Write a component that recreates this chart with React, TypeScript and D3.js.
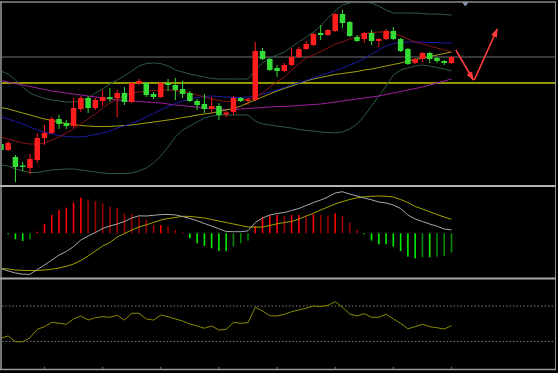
import React from 'react';
import * as d3 from 'd3';

const W = 558;
const H = 373;

// candles (oldest -> newest)
const opens = [56, 50, 43, 34.5, 32, 40, 62, 67, 81, 77, 74, 91, 102, 92, 99, 103, 102, 107, 98, 116.5, 117, 106, 103, 117, 115, 111, 107, 99, 96, 91, 94, 85.5, 88, 102, 99, 100, 149, 141, 132, 129, 135, 143, 151, 155, 167, 165, 169, 186, 178, 163, 161, 167, 159, 161, 169, 161, 151, 137, 141, 147, 142, 139, 137];
const highs = [58, 59, 45, 38, 46, 67, 75, 83, 85, 80, 102, 104, 104, 102, 110, 112, 110, 113, 118, 121, 118, 108, 118, 121, 122, 119, 109, 101, 106, 103, 97, 89, 104, 103, 102, 158, 152, 142, 135, 137, 152, 153, 159, 167, 175, 171, 187, 190, 179, 165, 168, 170, 162, 171, 173, 162, 152, 142, 148, 148, 143, 140, 144];
const lows = [48, 49, 18, 29, 26, 37, 55, 66, 71, 71, 72, 88, 87, 90, 94, 98, 83, 95, 97, 115, 103, 101, 102, 109, 100, 102, 98, 90, 87, 87, 80, 83, 85, 98, 95, 99, 140, 129, 123, 128, 134, 142, 150, 154, 160, 164, 168, 172, 163, 158, 157, 155, 153, 160, 160, 148, 135, 136, 138, 137, 137, 135, 136];
const closes = [50, 57, 33, 33, 41, 62, 67, 81, 76, 74, 92, 102, 92, 100, 103, 101, 107, 98, 117, 119, 105, 103, 117, 115, 110, 106, 99, 95, 91, 94, 85, 87.5, 102, 99, 100.5, 149, 141, 130, 129, 135, 143, 151, 156, 166, 165, 170, 186, 177, 164, 159, 167, 159, 161, 169, 161, 149, 136, 141, 147, 141, 139, 137, 143];

// overlays on the price panel
const bollUpper = [129, 126, 120, 113, 107, 104, 101.5, 100, 99, 98, 98, 99, 102, 107, 111, 116, 120, 124, 129, 134, 136.5, 137, 136.5, 134, 130, 128, 126, 124.5, 123, 121.5, 121, 121, 121, 121, 121, 130, 137, 142, 145, 148, 153, 158, 163, 168, 174, 182, 189, 195, 197, 198, 198, 197, 194, 190, 187, 187, 187, 187, 186.5, 186, 186, 185.5, 185];
const bollMid = [83, 81, 78.5, 76, 73, 70, 68, 66, 64.5, 63.5, 63, 63, 64, 65.5, 67, 69, 72, 74, 76.5, 79.5, 83, 86.5, 90, 93.5, 96.5, 99, 101, 102.5, 103.5, 104, 103.5, 103, 102.5, 102.5, 103, 104.5, 106, 108, 110, 112.5, 115, 117, 119.5, 122, 124.5, 127, 129.5, 132, 135, 138, 141.5, 146, 150, 154, 156.5, 157.5, 158, 158, 158, 157.5, 157.5, 157, 157];
const bollLower = [35, 34, 31, 29, 27.5, 27.5, 29, 30, 30.5, 31, 31, 30, 29, 28, 27, 26.5, 26.5, 26.5, 27, 29, 32, 37, 44, 53, 63, 70, 74, 78, 82, 84, 85, 85, 85, 85, 85, 79, 76, 75, 74, 73, 72, 70.5, 69.5, 69, 68, 67.5, 67, 68, 71, 76, 84, 94, 104, 114, 125, 130, 132, 134, 135, 134, 132.5, 131, 129];
const maShort = [63, 61, 59, 57, 56, 56, 57, 60, 63, 67, 71, 76, 81, 86, 92, 97, 101, 104, 107, 108, 109, 109.5, 110, 110, 109.5, 108.5, 107, 105, 103, 101, 99.5, 98.5, 99, 100, 101, 103, 107, 113, 118, 123, 130, 136, 142, 145, 148.5, 152, 156, 158, 161, 163, 166, 167.5, 168, 168, 167, 164, 161, 158, 156, 154, 152, 150, 148];
const maMid = [92.5, 91, 89, 87, 85, 83, 81, 79.5, 78, 76.5, 75.5, 74.5, 74, 73.5, 73.5, 73.5, 74, 74.5, 75, 76, 77, 78, 79, 80, 81, 82.5, 83.5, 85, 86, 87, 88.5, 90, 91.5, 94, 97, 100, 103, 106, 109, 111.5, 114, 116.5, 119, 121, 122.5, 124, 125.5, 126.5, 127.5, 128.5, 130, 131, 132.5, 134, 135.5, 137, 139, 140.5, 142, 143.5, 145, 146.5, 148];
const maLong = [119.5, 118, 116.5, 115, 113.5, 112, 110.5, 109, 108, 107, 106, 105, 104, 103, 102, 101, 100, 99.5, 99, 98.5, 98, 97.5, 97, 96, 95, 94.5, 93.5, 93, 92, 91.5, 91, 90.5, 90.5, 91, 91.5, 92, 92.5, 93, 93.5, 93.5, 94, 94.5, 95, 95.5, 96, 97, 98, 99, 100, 101, 102, 103, 104, 105.5, 107, 108.5, 110, 111.5, 113, 115, 117, 119, 121];
const priceLevels = [
  { value: 143, color: '#4d4d4d', width: 1.6 },
  { value: 117, color: '#c8c800', width: 1.3 },
];

// MACD
const macdDif = [-35.2, -37.7, -39.7, -40.9, -41, -36.2, -31.7, -26.7, -21.7, -18.2, -13.2, -6.7, -2.7, 0.8, 4.8, 7.3, 9.3, 11.8, 15.3, 17.5, 17.3, 18, 18.7, 18.9, 18.4, 16.8, 14.8, 12.5, 9.8, 7.3, 4.5, 1.8, 1.6, 1.6, 2.5, 10.8, 15.3, 18.3, 19.8, 20.8, 22.8, 24.8, 27.8, 30.8, 33.3, 36.3, 40.3, 41.6, 39.3, 37.3, 35.3, 33.5, 31.3, 30.3, 28.3, 24.8, 18.3, 14.3, 11.8, 9.3, 7.1, 4.3, 3.3];
const macdDea = [-35, -35.7, -36.7, -37.1, -37.3, -37.2, -36.7, -35.9, -34.7, -33, -30.7, -27.2, -22.7, -17.7, -12.7, -9.2, -3.7, -0.2, 3.3, 6.3, 8.5, 10.8, 13.3, 14.8, 15.8, 17, 16.9, 16.1, 15.3, 13.8, 12.3, 10.8, 9.3, 7.8, 6.3, 6.1, 6.3, 7.8, 9.5, 10.8, 11.8, 14.3, 17.3, 20, 23.3, 26.3, 29.3, 31.8, 33.8, 35.5, 36.5, 37, 37.3, 37, 36.3, 33.8, 30.8, 26.8, 24.3, 21.5, 18.8, 16.3, 14];
const macdHist = [-0.5, -1, -6, -7.7, -6, 1.7, 9.3, 18.3, 23.3, 25.7, 30.7, 35.7, 34, 32.3, 30, 26.7, 25, 20, 19.3, 16.7, 13.3, 8.3, 8.3, 6.7, 3.3, 1, -5, -10, -12.7, -15, -17.7, -17.7, -13.3, -10, -7.3, 7.3, 16, 18, 18.3, 17.7, 18.3, 18.3, 16.7, 19, 18.3, 17.7, 20, 17.3, 10.7, 3.3, -1, -7.3, -11, -11, -13.3, -17.7, -23.3, -25, -24, -24, -23.3, -22.7, -19.3];

// RSI
const rsi = [33.6, 36.2, 29.7, 29.7, 34.2, 43.7, 46.7, 51.6, 50.5, 49.4, 55.4, 58.8, 54.2, 56.8, 58.0, 57.3, 59.5, 54.2, 61.8, 61.8, 55.4, 54.2, 59.9, 58.0, 55.4, 53.1, 49.7, 47.5, 44.9, 47.5, 42.9, 43.7, 51.6, 50.5, 51.2, 68.6, 64.4, 59.1, 58.8, 60.7, 63.6, 65.5, 67.5, 70.1, 69.3, 70.8, 74.9, 68.6, 61.0, 58.8, 61.4, 57.3, 57.3, 60.7, 55.4, 50.5, 44.4, 46.7, 49.4, 46.7, 45.5, 44.1, 47.8];
const rsiLevels = [70, 30];

// hand-drawn projection arrows (candle index, price)
const arrowPoints = [
  { i: 62.6, p: 150 },
  { i: 65, p: 120 },
  { i: 68.3, p: 171 },
];

const RED = '#ff1e1e';
const GREEN = '#35dc35';

export default function App() {
  const x = d3.scaleLinear().domain([0, 62]).range([0.9, 451.5]);
  const yP = d3.scaleLinear().domain([16, 197]).range([184, 3]);
  const yM = d3.scaleLinear().domain([-44.7, 46.3]).range([278, 187]);
  const yR = d3.scaleLinear().domain([0, 100]).range([368, 279.5]);

  const priceLine = d3.line<number>().x((_, i) => x(i)).y((d) => yP(d));
  const macdLine = d3.line<number>().x((_, i) => x(i)).y((d) => yM(d));
  const rsiLine = d3.line<number>().x((_, i) => x(i)).y((d) => yR(d));

  const bodyW = 5.5;
  const ticks = d3.range(6, 63, 8);

  const histColor = (v: number, i: number) => {
    const prev = i > 0 ? macdHist[i - 1] : v;
    if (v >= 0) return v >= prev ? '#ff0000' : '#9a0000';
    return v <= prev ? '#00ee00' : '#008a00';
  };

  const overlays = [
    { data: bollUpper, color: '#2d5b40' },
    { data: bollLower, color: '#2d5b40' },
    { data: maLong, color: '#a01ea0' },
    { data: maMid, color: '#a3a312' },
    { data: bollMid, color: '#1c1ca8' },
    { data: maShort, color: '#8a1414' },
  ];

  const [a0, a1, a2] = arrowPoints;

  return (
    <svg
      width={W}
      height={H}
      style={{ position: 'absolute', left: 0, top: 0, display: 'block', background: '#000' }}
    >
      <defs>
        <clipPath id="mainClip">
          <rect x={2} y={3} width={553} height={182} />
        </clipPath>
        <clipPath id="macdClip">
          <rect x={2} y={187} width={553} height={90} />
        </clipPath>
        <marker id="arrowHead" viewBox="0 0 10 10" refX={9} refY={5} markerWidth={9} markerHeight={9} markerUnits="userSpaceOnUse" orient="auto">
          <path d="M0,1.5 L10,5 L0,8.5 z" fill="#ff3b3b" />
        </marker>
      </defs>
      <rect x={0} y={0} width={W} height={H} fill="#000" />

      {/* main price panel */}
      <g clipPath="url(#mainClip)">
        {priceLevels.map((l, k) => (
          <line key={k} x1={2} x2={555} y1={yP(l.value)} y2={yP(l.value)} stroke={l.color} strokeWidth={l.width} />
        ))}
        {overlays.map((o, k) => (
          <path key={k} d={priceLine(o.data) || ''} fill="none" stroke={o.color} strokeWidth={1} />
        ))}
        {opens.map((o, i) => {
          const c = closes[i];
          const up = c >= o;
          const col = up ? RED : GREEN;
          const top = yP(Math.max(o, c));
          const bot = yP(Math.min(o, c));
          return (
            <g key={i}>
              <line x1={x(i)} x2={x(i)} y1={yP(highs[i])} y2={yP(lows[i])} stroke={col} strokeWidth={1} />
              <rect x={x(i) - bodyW / 2} y={top} width={bodyW} height={Math.max(1.5, bot - top)} fill={col} />
            </g>
          );
        })}
        <path
          d={`M${x(a0.i)},${yP(a0.p)} L${x(a1.i)},${yP(a1.p)}`}
          stroke="#ff3b3b"
          strokeWidth={1.6}
          fill="none"
          markerEnd="url(#arrowHead)"
        />
        <path
          d={`M${x(a1.i) + 1},${yP(a1.p)} L${x(a2.i)},${yP(a2.p)}`}
          stroke="#ff3b3b"
          strokeWidth={1.6}
          fill="none"
          markerEnd="url(#arrowHead)"
        />
      </g>
      {/* small marker at the top edge */}
      <path d={`M${x(63.9) - 3.5},2 L${x(63.9) + 3.5},2 L${x(63.9)},6.5 z`} fill="#8797ab" />

      {/* MACD panel */}
      <g clipPath="url(#macdClip)">
        {macdHist.map((v, i) => (
          <rect
            key={i}
            x={x(i) - 0.8}
            y={Math.min(yM(v), yM(0))}
            width={1.6}
            height={Math.abs(yM(v) - yM(0))}
            fill={histColor(v, i)}
          />
        ))}
        <path d={macdLine(macdDea) || ''} fill="none" stroke="#a3a300" strokeWidth={1} />
        <path d={macdLine(macdDif) || ''} fill="none" stroke="#a9a9a9" strokeWidth={1} />
      </g>

      {/* RSI panel */}
      {rsiLevels.map((lv) => (
        <line key={lv} x1={2} x2={555} y1={yR(lv)} y2={yR(lv)} stroke="#7e7e7e" strokeWidth={1} strokeDasharray="1.5,2" />
      ))}
      <path d={rsiLine(rsi) || ''} fill="none" stroke="#8a8a00" strokeWidth={1} />

      {/* frame and separators */}
      <line x1={0} x2={556} y1={2} y2={2} stroke="#8a8a8a" strokeWidth={1.5} />
      <line x1={1} x2={1} y1={2} y2={369} stroke="#9a9a9a" strokeWidth={1.5} />
      <line x1={555.5} x2={555.5} y1={2} y2={369} stroke="#8a8a8a" strokeWidth={1} />
      <line x1={0} x2={556} y1={186} y2={186} stroke="#b4b4b4" strokeWidth={2} />
      <line x1={0} x2={556} y1={278.5} y2={278.5} stroke="#a8a8a8" strokeWidth={2} />
      <line x1={0} x2={556} y1={369.5} y2={369.5} stroke="#9a9a9a" strokeWidth={1.5} />
      {ticks.map((t) => (
        <line key={t} x1={x(t)} x2={x(t)} y1={367} y2={369} stroke="#7a7a7a" strokeWidth={1} />
      ))}
    </svg>
  );
}
